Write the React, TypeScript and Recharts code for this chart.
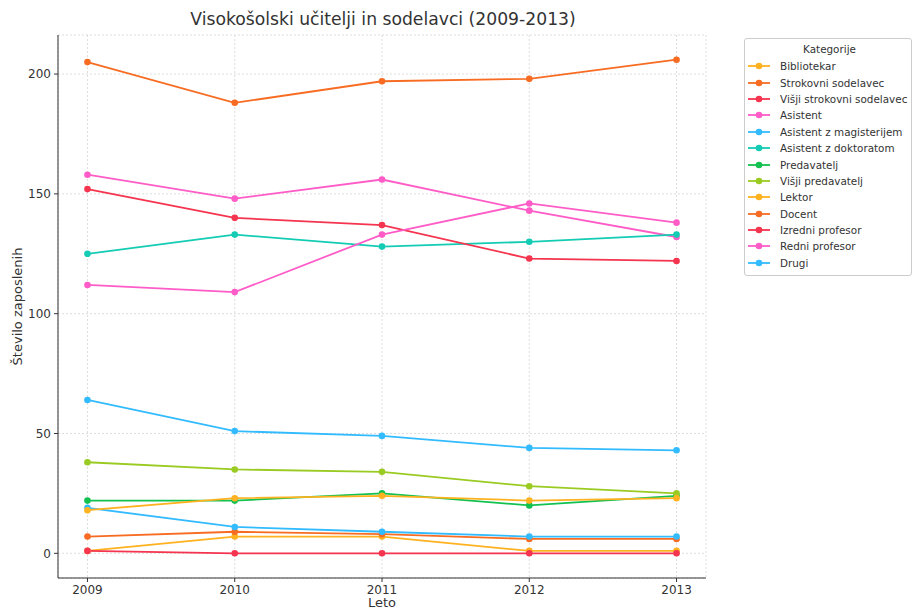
import React from "react";
import {
  LineChart,
  Line,
  XAxis,
  YAxis,
  CartesianGrid,
  Legend,
} from "recharts";

const years = [2009, 2010, 2011, 2012, 2013];

const bibliotekar = [1, 7, 7, 1, 1];
const strokovniSodelavec = [7, 9, 8, 6, 6];
const visjiStrokovniSodelavec = [1, 0, 0, 0, 0];
const asistent = [158, 148, 156, 143, 132];
const asistentMag = [19, 11, 9, 7, 7];
const asistentDr = [125, 133, 128, 130, 133];
const predavatelj = [22, 22, 25, 20, 24];
const visjiPredavatelj = [38, 35, 34, 28, 25];
const lektor = [18, 23, 24, 22, 23];
const docent = [205, 188, 197, 198, 206];
const izredniProfesor = [152, 140, 137, 123, 122];
const redniProfesor = [112, 109, 133, 146, 138];
const drugi = [64, 51, 49, 44, 43];

const yTicks = [0, 50, 100, 150, 200];

const YELLOW = "#ffb21f";
const ORANGE = "#f76c22";
const RED = "#f5344f";
const PINK = "#ff5cc8";
const BLUE = "#33bbff";
const TEAL = "#14ccb4";
const GREEN = "#12c150";
const LIME = "#9acb22";

const series = [
  { key: "Bibliotekar", values: bibliotekar, color: YELLOW },
  { key: "Strokovni sodelavec", values: strokovniSodelavec, color: ORANGE },
  { key: "Višji strokovni sodelavec", values: visjiStrokovniSodelavec, color: RED },
  { key: "Asistent", values: asistent, color: PINK },
  { key: "Asistent z magisterijem", values: asistentMag, color: BLUE },
  { key: "Asistent z doktoratom", values: asistentDr, color: TEAL },
  { key: "Predavatelj", values: predavatelj, color: GREEN },
  { key: "Višji predavatelj", values: visjiPredavatelj, color: LIME },
  { key: "Lektor", values: lektor, color: YELLOW },
  { key: "Docent", values: docent, color: ORANGE },
  { key: "Izredni profesor", values: izredniProfesor, color: RED },
  { key: "Redni profesor", values: redniProfesor, color: PINK },
  { key: "Drugi", values: drugi, color: BLUE },
];

const data = years.map((year, i) => {
  const row: Record<string, number> = { year };
  series.forEach((s) => {
    row[s.key] = s.values[i];
  });
  return row;
});

const FONT = "DejaVu Sans, sans-serif";
const TEXT = "#333333";

function LegendBox() {
  return (
    <div
      style={{
        border: "1px solid #cccccc",
        borderRadius: 3,
        background: "#fff",
        padding: "3px 0 4px 3px",
        fontFamily: FONT,
        fontSize: 10.4,
        color: TEXT,
        boxSizing: "border-box",
      }}
    >
      <div style={{ textAlign: "center", height: 15, lineHeight: "15px", marginBottom: 1 }}>
        Kategorije
      </div>
      {series.map((s) => (
        <div
          key={s.key}
          style={{ display: "flex", alignItems: "center", height: 16.4, whiteSpace: "nowrap" }}
        >
          <svg width={32} height={10} style={{ flexShrink: 0 }}>
            <line x1={0} y1={5} x2={22} y2={5} stroke={s.color} strokeWidth={1.8} />
            <circle cx={11} cy={5} r={3.3} fill={s.color} />
          </svg>
          <span>{s.key}</span>
        </div>
      ))}
    </div>
  );
}

export default function App() {
  return (
    <div style={{ position: "absolute", left: 0, top: 0, width: 912, height: 610, background: "#fff" }}>
      <div
        style={{
          position: "absolute",
          left: 0,
          width: 766,
          top: 9,
          textAlign: "center",
          fontFamily: FONT,
          fontSize: 17.2,
          color: TEXT,
        }}
      >
        Visokošolski učitelji in sodelavci (2009-2013)
      </div>
      <LineChart
        width={912}
        height={610}
        data={data}
        margin={{ top: 35, right: 206, bottom: 2, left: 18 }}
      >
        <CartesianGrid stroke="#d4d4d4" strokeDasharray="2 2" strokeWidth={0.8} />
        <XAxis
          dataKey="year"
          type="number"
          domain={[2008.8, 2013.2]}
          ticks={years}
          allowDataOverflow
          height={30}
          tickSize={4}
          tickMargin={3}
          stroke={TEXT}
          tick={{ fill: TEXT, fontSize: 12, fontFamily: FONT }}
          label={{ value: "Leto", position: "insideBottom", offset: 1, fill: TEXT, fontSize: 13, fontFamily: FONT }}
        />
        <YAxis
          type="number"
          domain={[-10.3, 216.3]}
          ticks={yTicks}
          allowDataOverflow
          width={40}
          tickSize={4}
          tickMargin={3}
          stroke={TEXT}
          tick={{ fill: TEXT, fontSize: 12, fontFamily: FONT }}
          label={{
            value: "Število zaposlenih",
            angle: -90,
            position: "insideLeft",
            offset: -1,
            style: { textAnchor: "middle" },
            fill: TEXT,
            fontSize: 13,
            fontFamily: FONT,
          }}
        />
        <Legend
          layout="vertical"
          align="center"
          verticalAlign="middle"
          wrapperStyle={{ left: 744, top: 38, width: 168, bottom: "auto", right: "auto" }}
          content={() => <LegendBox />}
        />
        {series.map((s) => (
          <Line
            key={s.key}
            dataKey={s.key}
            stroke={s.color}
            strokeWidth={1.8}
            dot={{ r: 3.3, fill: s.color, stroke: s.color, strokeWidth: 0 }}
            activeDot={false}
            isAnimationActive={false}
          />
        ))}
      </LineChart>
    </div>
  );
}
